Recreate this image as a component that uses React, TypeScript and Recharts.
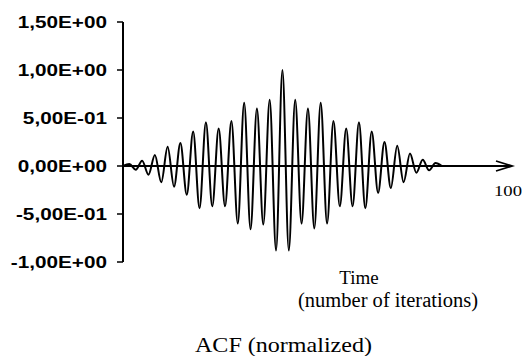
import { LineChart, Line, XAxis, YAxis, ReferenceLine } from "recharts";

// lag index (half periods) and normalized ACF
const lags = [
  0, 1, 2, 3, 4, 5, 6, 7, 8, 9, 10, 11, 12, 13, 14, 15, 16, 17, 18, 19, 20, 21, 22, 23, 24, 25,
  26, 27, 28, 29, 30, 31, 32, 33, 34, 35, 36, 37, 38, 39, 40, 41, 42, 43, 44, 45, 46, 47, 48, 49, 50,
];
const acf = [
  0, 0.02, -0.04, 0.055, -0.09, 0.115, -0.17, 0.2, -0.215, 0.24, -0.3, 0.36, -0.44, 0.455, -0.42,
  0.39, -0.42, 0.47, -0.6, 0.66, -0.66, 0.6, -0.61, 0.69, -0.88, 1.0, -0.88, 0.69, -0.6, 0.6, -0.65,
  0.66, -0.6, 0.47, -0.42, 0.39, -0.42, 0.455, -0.44, 0.36, -0.28, 0.25, -0.23, 0.21, -0.17, 0.13,
  -0.07, 0.065, -0.045, 0.03, 0,
];
const yTicks = [-1, -0.5, 0, 0.5, 1, 1.5];
const xEndLabel = "100";
const xTitle = ["Time", "(number of iterations)"];
const chartTitle = "ACF (normalized)";

const data = lags.map((lag, i) => ({ lag, acf: acf[i] }));

const sans = "'Liberation Sans', Arial, sans-serif";
const serif = "'Liberation Serif', 'Times New Roman', serif";

function sci(v: number) {
  const [m, e] = v.toExponential(2).split("e");
  const n = parseInt(e, 10);
  return `${m.replace(".", ",")}E${n < 0 ? "-" : "+"}${String(Math.abs(n)).padStart(2, "0")}`;
}

function YTick({ x, y, payload }: any) {
  return (
    <g transform={`translate(${x},${y}) scale(1.22,1)`}>
      <text x={0} y={0} dy={6} textAnchor="end" fontFamily={sans} fontWeight="bold" fontSize={17} fill="#000">
        {sci(payload.value)}
      </text>
    </g>
  );
}

function ArrowAxis(props: any) {
  const { x1, y1, x2 } = props;
  return (
    <g>
      <line x1={x1} y1={y1} x2={x2} y2={y1} stroke="#000" strokeWidth={2} />
      <polyline
        points={`${x2 - 16},${y1 - 5} ${x2},${y1} ${x2 - 16},${y1 + 5}`}
        fill="none"
        stroke="#000"
        strokeWidth={1.8}
      />
      <text x={x2 + 10} y={y1 + 30} textAnchor="end" fontFamily={serif} fontSize={15} fill="#000"
        textLength={28} lengthAdjust="spacingAndGlyphs">
        {xEndLabel}
      </text>
    </g>
  );
}

export default function App() {
  return (
    <div style={{ position: "absolute", left: 0, top: 0, width: 522, height: 356, background: "#fff" }}>
      <LineChart width={522} height={356} data={data} margin={{ top: 22, right: 10, bottom: 94, left: 0 }}>
        <XAxis type="number" dataKey="lag" domain={[0, 61]} hide />
        <YAxis
          type="number"
          domain={[-1, 1.5]}
          ticks={yTicks}
          width={123}
          tickSize={6}
          tickMargin={10}
          tick={<YTick />}
          axisLine={{ stroke: "#000", strokeWidth: 2 }}
          tickLine={{ stroke: "#000", strokeWidth: 1.5 }}
          interval={0}
        />
        <ReferenceLine y={0} stroke="#000" shape={ArrowAxis} />
        <Line
          type="monotone"
          dataKey="acf"
          stroke="#000"
          strokeWidth={2}
          dot={false}
          isAnimationActive={false}
        />
      </LineChart>
      <svg width={522} height={356} style={{ position: "absolute", left: 0, top: 0, pointerEvents: "none" }}>
        <text x={359} y={283.5} textAnchor="middle" fontFamily={serif} fontSize={19} fill="#000">
          {xTitle[0]}
        </text>
        <text x={388} y={307} textAnchor="middle" fontFamily={serif} fontSize={20} fill="#000"
          textLength={180} lengthAdjust="spacingAndGlyphs">
          {xTitle[1]}
        </text>
        <text x={283.5} y={351.5} textAnchor="middle" fontFamily={serif} fontSize={21} fill="#000"
          textLength={177} lengthAdjust="spacingAndGlyphs">
          {chartTitle}
        </text>
      </svg>
    </div>
  );
}
